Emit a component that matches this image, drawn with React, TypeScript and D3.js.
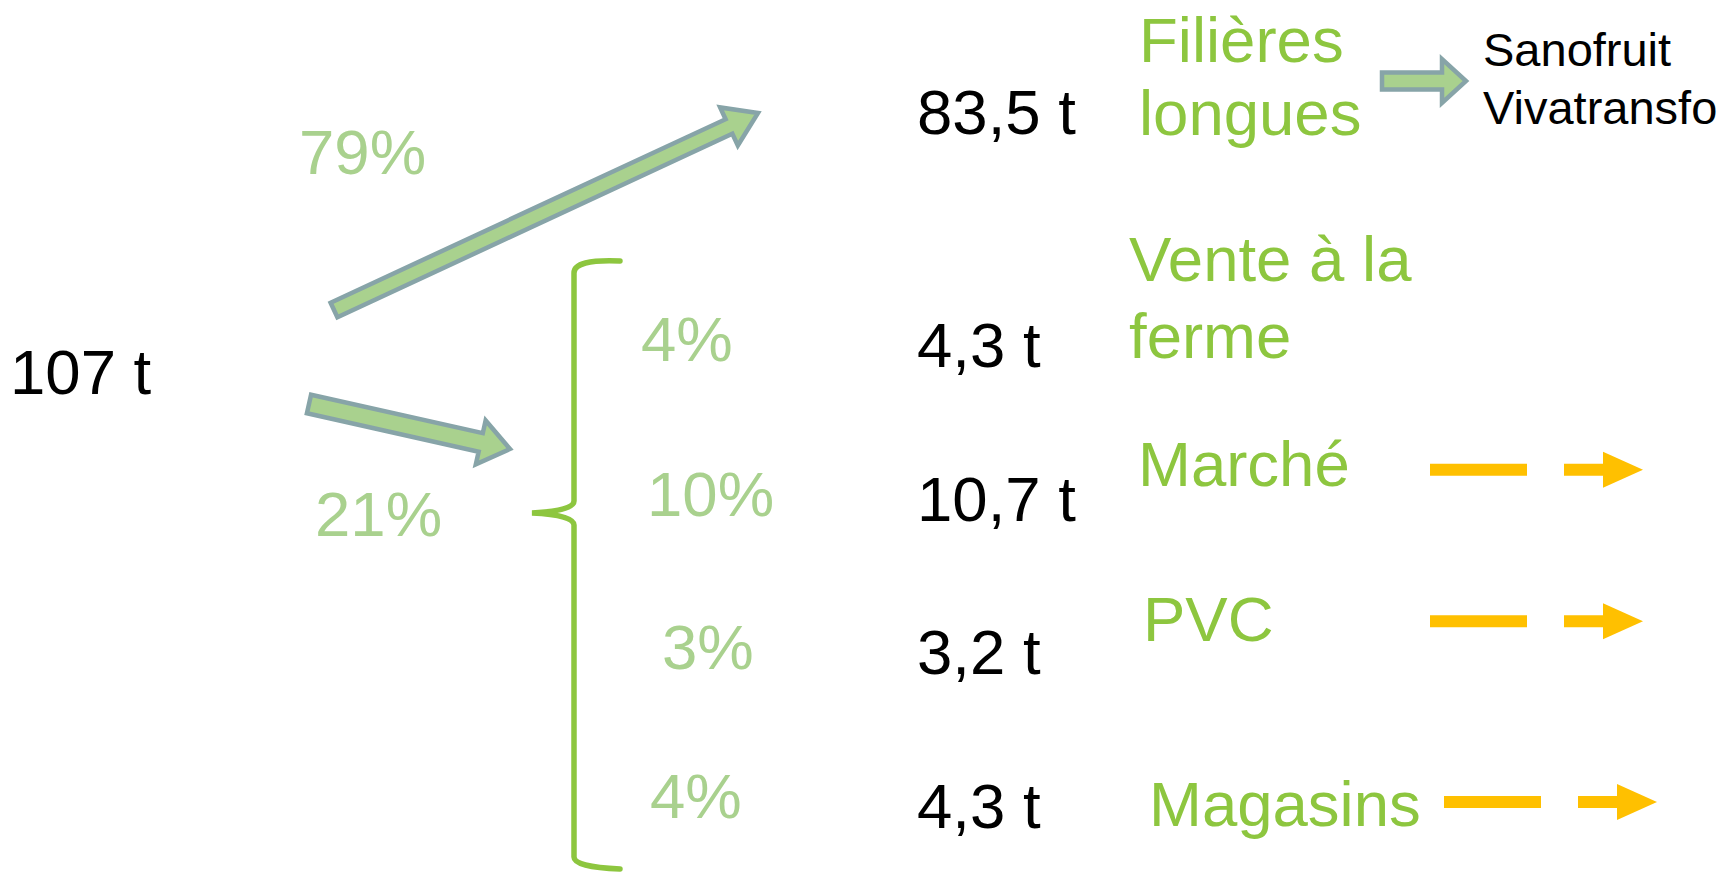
import React from 'react';
import * as d3 from 'd3';

// data
const total = '107 t';
const mainShares = ['79%', '21%'];
const longChannel = { tonnage: '83,5 t', label: ['Filières', 'longues'] };
const longBuyers = ['Sanofruit', 'Vivatransfo'];
const shortChannels = ['Vente à la ferme', 'Marché', 'PVC', 'Magasins'];
const shortLabels = [['Vente à la', 'ferme'], ['Marché'], ['PVC'], ['Magasins']];
const shortShares = ['4%', '10%', '3%', '4%'];
const shortTonnage = ['4,3 t', '10,7 t', '3,2 t', '4,3 t'];
const hasOutArrow = [false, true, true, true];

const W = 1727;
const H = 873;
const FONT = '"Liberation Sans", Arial, sans-serif';
const FS = 63.5;

const GREEN = '#8DC63F';
const LIGHT = '#A9D18E';
const EDGE = '#87A4A8';
const GOLD = '#FFC000';

// layout tweaks per row (the original slide is hand placed)
const shareX = [641, 647, 662, 650];
const shareDy = [-6, -5, -5, -10];
const labelX = [1129, 1138, 1143, 1149];
const labelDy = [-86, -35, -33, -2];
const arrowDy = [0, -52, -54, -27];
const arrowDx = [0, 0, 0, 14];

function arrowPoints(x0, y0, x1, y1, shaft, head, headLen) {
  const a = Math.atan2(y1 - y0, x1 - x0);
  const len = Math.hypot(x1 - x0, y1 - y0);
  const pts = [
    [0, -shaft / 2], [len - headLen, -shaft / 2], [len - headLen, -head / 2],
    [len, 0],
    [len - headLen, head / 2], [len - headLen, shaft / 2], [0, shaft / 2],
  ];
  return pts.map(([u, v]) => [
    x0 + u * Math.cos(a) - v * Math.sin(a),
    y0 + u * Math.sin(a) + v * Math.cos(a),
  ]);
}

function BlockArrow({ from, to, shaft, head, headLen }) {
  const pts = arrowPoints(from[0], from[1], to[0], to[1], shaft, head, headLen);
  const line = d3.line().curve(d3.curveLinearClosed);
  return <path d={line(pts)} fill={LIGHT} stroke={EDGE} strokeWidth={4.5} strokeLinejoin="miter" />;
}

function Brace({ x, tipX, top, mid, bottom, right }) {
  const p = d3.path();
  p.moveTo(right, top);
  p.quadraticCurveTo(x, top - 2, x, top + 12);
  p.lineTo(x, mid - 12);
  p.quadraticCurveTo(x, mid - 2, tipX, mid);
  p.quadraticCurveTo(x, mid + 2, x, mid + 12);
  p.lineTo(x, bottom - 12);
  p.quadraticCurveTo(x, bottom - 2, right, bottom);
  return <path d={p.toString()} fill="none" stroke={GREEN} strokeWidth={5.5} strokeLinecap="round" />;
}

function DashArrow({ x, y }) {
  const dash = 97, gap = 37, tail = 41, headLen = 38, head = 36;
  const shaftEnd = x + dash + gap + tail;
  const line = d3.line();
  return (
    <g>
      <path d={line([[x, y], [shaftEnd, y]])} stroke={GOLD} strokeWidth={12}
        strokeDasharray={`${dash} ${gap}`} fill="none" />
      <path d={line([[shaftEnd - 2, y - head / 2], [shaftEnd + headLen, y], [shaftEnd - 2, y + head / 2]])}
        fill={GOLD} />
    </g>
  );
}

export default function App() {
  const rowY = d3.scalePoint().domain(shortChannels).range([367, 828]);

  return (
    <svg width={W} height={H} style={{ position: 'absolute', left: 0, top: 0 }}
      fontFamily={FONT} fontSize={FS}>
      <rect width={W} height={H} fill="#fff" />

      <text x={10} y={394}>{total}</text>

      <BlockArrow from={[334, 310]} to={[758, 113]} shaft={16} head={42} headLen={32} />
      <BlockArrow from={[309, 404]} to={[510, 449]} shaft={19} head={45} headLen={30} />
      <text x={299} y={174} fill={LIGHT}>{mainShares[0]}</text>
      <text x={315} y={536} fill={LIGHT}>{mainShares[1]}</text>

      <Brace x={574} tipX={532} top={261} mid={513} bottom={869} right={620} />

      <text x={917} y={134}>{longChannel.tonnage}</text>
      {longChannel.label.map((t, i) => (
        <text key={t} x={1139} y={62 + i * 73} fill={GREEN}>{t}</text>
      ))}
      <BlockArrow from={[1382, 81]} to={[1466, 81]} shaft={17} head={44} headLen={24} />
      {longBuyers.map((t, i) => (
        <text key={t} x={1483} y={66 + i * 58} fontSize={47}>{t}</text>
      ))}

      {shortChannels.map((c, i) => {
        const y = rowY(c);
        return (
          <g key={c}>
            <text x={shareX[i]} y={y + shareDy[i]} fill={LIGHT}>{shortShares[i]}</text>
            <text x={917} y={y}>{shortTonnage[i]}</text>
            {shortLabels[i].map((t, j) => (
              <text key={t} x={labelX[i]} y={y + labelDy[i] + j * 77} fill={GREEN}>{t}</text>
            ))}
            {hasOutArrow[i] && <DashArrow x={1430 + arrowDx[i]} y={y + arrowDy[i] + 1} />}
          </g>
        );
      })}
    </svg>
  );
}
